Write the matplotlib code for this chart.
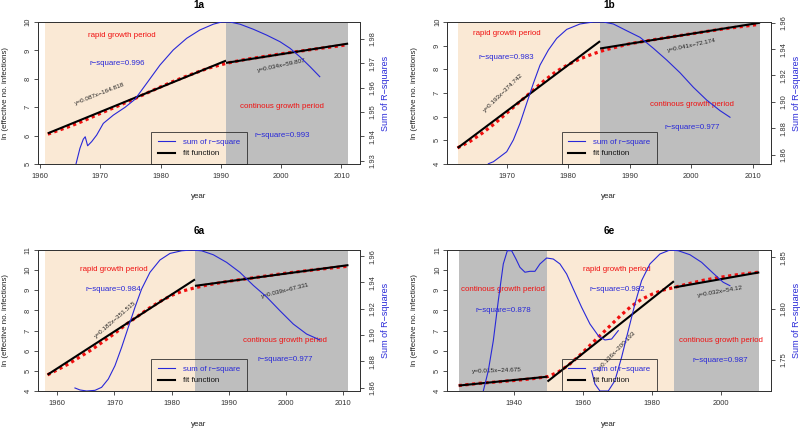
import matplotlib
matplotlib.use('Agg')
import matplotlib.pyplot as plt
from matplotlib.lines import Line2D

plt.rcParams['font.family'] = ['Liberation Sans', 'DejaVu Sans']

# ---------------- data ----------------
# panel 1a
p1a_red_year = [1961.3, 1963, 1965, 1967, 1970, 1973, 1976, 1979, 1982, 1985, 1988, 1991, 1994, 1997, 2000, 2003, 2006, 2009, 2011]
p1a_red_val = [6.05, 6.18, 6.33, 6.5, 6.78, 7.05, 7.33, 7.62, 7.9, 8.15, 8.38, 8.55, 8.68, 8.78, 8.88, 8.97, 9.06, 9.14, 9.2]
p1a_blue_year = [1965.97, 1966.63, 1967.18, 1967.5, 1967.9, 1968.57, 1969.4, 1970.5, 1972.16, 1974.1, 1975.75, 1977.7, 1979.9, 1982.1, 1984.33, 1986.5, 1988.74, 1990.13, 1991.5, 1993.17, 1995.4, 1997.6, 1999.8, 2001.46, 2003.1, 2004.8, 2006.4]
p1a_blue_val = [1.9286, 1.9351, 1.9388, 1.9398, 1.9361, 1.9378, 1.9405, 1.9453, 1.9487, 1.9519, 1.9552, 1.9618, 1.9693, 1.9755, 1.9803, 1.9837, 1.9861, 1.987, 1.987, 1.9861, 1.984, 1.9816, 1.9789, 1.9762, 1.9727, 1.9686, 1.9645]
p1a_fit_x = [(1961.3, 1990.85), (1990.85, 2011.1)]
p1a_fit_y = [(6.08, 8.64), (8.56, 9.24)]
p1a_periods = [(1960.8, 1990.85), (1990.85, 2011.1)]
p1a_eq = ["y=0.087x\u2212164.818", "y=0.034x\u221259.807"]
p1a_r2 = ["r\u2212square=0.996", "r\u2212square=0.993"]

# panel 1b
p1b_red_year = [1962.0, 1964, 1966, 1968, 1970, 1972, 1974, 1976, 1978, 1980, 1982, 1984, 1986, 1988, 1990, 1995, 2000, 2005, 2011]
p1b_red_val = [4.68, 4.95, 5.3, 5.7, 6.15, 6.6, 7.05, 7.5, 7.9, 8.2, 8.45, 8.65, 8.82, 8.95, 9.08, 9.3, 9.5, 9.7, 9.9]
p1b_blue_year = [1967.02, 1967.83, 1968.92, 1970.0, 1971.08, 1972.17, 1973.25, 1974.34, 1975.42, 1976.78, 1978.13, 1979.76, 1981.92, 1984.09, 1985.72, 1987.34, 1989.51, 1991.68, 1993.85, 1996.02, 1998.18, 2000.35, 2002.52, 2004.69, 2006.31]
p1b_blue_val = [1.8532, 1.8547, 1.8585, 1.8623, 1.8712, 1.8838, 1.899, 1.9141, 1.9279, 1.9393, 1.9481, 1.9549, 1.959, 1.9605, 1.9605, 1.959, 1.9539, 1.9489, 1.9406, 1.9317, 1.9221, 1.9111, 1.9014, 1.8934, 1.8884]
p1b_fit_x = [(1962.03, 1985.18), (1985.18, 2011.2)]
p1b_fit_y = [(4.68, 9.19), (8.88, 9.97)]
p1b_periods = [(1962.03, 1985.18), (1985.18, 2011.2)]
p1b_eq = ["y=0.193x\u2212374.742", "y=0.041x\u221272.174"]
p1b_r2 = ["r\u2212square=0.983", "r\u2212square=0.977"]

# panel 6a
p6a_red_year = [1958.3, 1960, 1962, 1964, 1966, 1968, 1970, 1972, 1974, 1976, 1978, 1980, 1982, 1984, 1986, 1990, 1995, 2000, 2005, 2011]
p6a_red_val = [4.8, 5.05, 5.35, 5.7, 6.05, 6.45, 6.85, 7.3, 7.7, 8.1, 8.45, 8.75, 8.97, 9.12, 9.25, 9.45, 9.65, 9.85, 10.02, 10.2]
p6a_blue_year = [1963.09, 1963.96, 1965.13, 1966.59, 1967.75, 1968.92, 1970.08, 1971.25, 1972.41, 1973.58, 1974.74, 1976.2, 1977.95, 1979.7, 1981.74, 1983.48, 1985.23, 1987.27, 1989.6, 1991.93, 1994.27, 1996.6, 1998.93, 2001.26, 2003.59, 2005.92]
p6a_blue_val = [1.8598, 1.8583, 1.8575, 1.858, 1.8603, 1.8666, 1.8767, 1.8907, 1.9059, 1.9211, 1.935, 1.9477, 1.9571, 1.9621, 1.9641, 1.9647, 1.9641, 1.9611, 1.9553, 1.9477, 1.9378, 1.929, 1.9185, 1.9084, 1.9008, 1.8963]
p6a_fit_x = [(1958.3, 1984.07), (1984.07, 2010.9)]
p6a_fit_y = [(4.81, 9.54), (9.22, 10.25)]
p6a_periods = [(1957.8, 1984.07), (1984.07, 2010.9)]
p6a_eq = ["y=0.182x\u2212351.515", "y=0.039x\u221267.331"]
p6a_r2 = ["r\u2212square=0.984", "r\u2212square=0.977"]

# panel 6e
p6e_red_year = [1924.1, 1930, 1935, 1940, 1945, 1950, 1953, 1956, 1959, 1962, 1965, 1968, 1971, 1974, 1977, 1980, 1983, 1986, 1990, 1995, 2000, 2005, 2011]
p6e_red_val = [4.27, 4.38, 4.45, 4.52, 4.6, 4.72, 4.95, 5.3, 5.75, 6.25, 6.75, 7.25, 7.75, 8.2, 8.55, 8.8, 9.0, 9.12, 9.3, 9.5, 9.65, 9.78, 9.9]
p6e_blueA_year = [1931.22, 1932.67, 1934.12, 1935.56, 1937.01, 1938.17, 1939.42, 1940.68, 1941.83, 1943.28, 1944.73, 1946.17, 1947.62, 1949.55, 1951.48, 1953.41, 1955.34, 1957.27, 1959.68, 1962.09, 1964.5, 1966.43, 1968.36, 1970.29]
p6e_blueA_val = [1.7196, 1.7394, 1.7687, 1.8077, 1.8436, 1.8565, 1.8565, 1.8484, 1.8403, 1.8355, 1.8364, 1.8364, 1.8436, 1.8494, 1.8484, 1.8436, 1.8338, 1.8192, 1.8013, 1.785, 1.7736, 1.7694, 1.7703, 1.7785]
p6e_blueB_year = [1962.57, 1963.54, 1964.98, 1967.39, 1969.32, 1971.25, 1973.18, 1975.11, 1977.04, 1979.45, 1982.35, 1985.24, 1987.65, 1991.03, 1994.4, 1997.78, 2000.67, 2002.6]
p6e_blueB_val = [1.7394, 1.7264, 1.7196, 1.7196, 1.7297, 1.7525, 1.7785, 1.8045, 1.8273, 1.8436, 1.8533, 1.8572, 1.8565, 1.8526, 1.8452, 1.8345, 1.8257, 1.8224]
p6e_fit_x = [(1924.1, 1949.8), (1949.8, 1986.4), (1986.4, 2011.1)]
p6e_fit_y = [(4.27, 4.71), (4.47, 9.45), (9.14, 9.89)]
p6e_periods = [(1924.1, 1949.8), (1949.8, 1986.4), (1986.4, 2011.1)]
p6e_eq = ["y=0.015x\u221224.675", "y=0.136x\u2212200.193", "y=0.032x\u221254.12"]
p6e_r2 = ["r\u2212square=0.878", "r\u2212square=0.982", "r\u2212square=0.987"]

# ---------------- style ----------------
BEIGE = '#FAE9D5'
GRAY = '#BEBEBE'
RED = '#F01010'
BLUE = '#2828D8'
TXT = 5.7
TICK = 5.4

W, H = 800, 429
fig = plt.figure(figsize=(W / 100, H / 100), dpi=100)


def add_ax(l, r, t, b):
    return fig.add_axes([l / W, (H - b) / H, (r - l) / W, (b - t) / H])


def panel(box, title, xlim, ylim, y2lim, xticks, yticks, y2ticks, y2fmt,
          periods, kinds, red_x, red_y, fit_x, fit_y, blues,
          texts, eqs, title_dy, xlab_dy):
    ax = add_ax(*box)
    ax.set_xlim(*xlim)
    ax.set_ylim(*ylim)
    for (x0, x1), k in zip(periods, kinds):
        ax.axvspan(x0, x1, color=BEIGE if k == 'r' else GRAY, lw=0, zorder=0)
    ax.plot(red_x, red_y, color=RED, lw=2.3, ls=(0, (1, 1.1)), zorder=2)
    for xs, ys in zip(fit_x, fit_y):
        ax.plot(xs, ys, color='black', lw=1.5, zorder=3, solid_capstyle='butt')
    for (x, y, s, c) in texts:
        ax.text(x, y, s, color=c, fontsize=TXT, ha='center', va='center', zorder=4)
    for (x, y, s, rot) in eqs:
        ax.text(x, y, s, color='#222222', fontsize=4.6, ha='center', va='center',
                rotation=rot, rotation_mode='anchor', zorder=4)
    ax.set_xticks(xticks)
    ax.set_yticks(yticks)
    ax.tick_params(axis='both', direction='out', length=3, width=0.6,
                   labelsize=TICK, colors='#333333')
    ax.tick_params(axis='x', pad=3.2)
    ax.tick_params(axis='y', pad=1.5, labelrotation=90)
    for lab in ax.get_yticklabels():
        lab.set_va('center')
    for sp in ax.spines.values():
        sp.set_linewidth(0.7)
        sp.set_color('#333333')
    ax.text(0.5, 1 + title_dy, title, transform=ax.transAxes, ha='center',
            va='center', fontsize=7.2, fontweight='bold')
    ax.text(0.5, -xlab_dy, 'year', transform=ax.transAxes, ha='center',
            va='center', fontsize=TXT, color='#222222')
    ax.text(-0.101, 0.5, 'ln (effective no. infections)', transform=ax.transAxes,
            ha='center', va='center', rotation=90, fontsize=TXT, color='#222222')

    ax2 = ax.twinx()
    for bx, by in blues:
        ax2.plot(bx, by, color=BLUE, lw=0.8, zorder=5)
    ax2.set_ylim(*y2lim)
    ax2.set_yticks(y2ticks)
    ax2.set_yticklabels([y2fmt % v for v in y2ticks])
    ax2.tick_params(axis='y', direction='out', length=3, width=0.6,
                    labelsize=TICK, colors='#333333', pad=4, labelrotation=90)
    for lab in ax2.get_yticklabels():
        lab.set_va('center')
    for sp in ax2.spines.values():
        sp.set_linewidth(0.7)
        sp.set_color('#333333')
    ax2.text(1.08, 0.5, 'Sum of R\u2212squares', transform=ax2.transAxes,
             ha='center', va='center', rotation=90, fontsize=6.5, color=BLUE)
    handles = [Line2D([], [], color=BLUE, lw=0.8), Line2D([], [], color='black', lw=1.5)]
    leg = ax2.legend(handles, ['sum of r\u2212square', 'fit function'], loc='lower center',
                     fontsize=TXT, frameon=True, fancybox=False, edgecolor='#222222',
                     facecolor='none', framealpha=None, borderaxespad=0, borderpad=0.85,
                     handlelength=2.1, handletextpad=1.0, labelspacing=0.45)
    leg.get_frame().set_linewidth(0.7)
    leg.get_texts()[0].set_color(BLUE)
    leg.get_texts()[1].set_color('#111111')
    leg.set_zorder(6)
    return ax, ax2


# 1a
panel((38, 360, 22, 164), '1a', (1959.67, 2013.07), (5, 10), (1.9286, 1.987),
      [1960, 1970, 1980, 1990, 2000, 2010], [5, 6, 7, 8, 9, 10],
      [1.93, 1.94, 1.95, 1.96, 1.97, 1.98], '%.2f',
      p1a_periods, ['r', 'c'], p1a_red_year, p1a_red_val, p1a_fit_x, p1a_fit_y,
      [(p1a_blue_year, p1a_blue_val)],
      [(1973.6, 9.53, 'rapid growth period', RED), (1972.8, 8.54, p1a_r2[0], BLUE),
       (2000.1, 7.01, 'continous growth period', RED), (2000.1, 6.02, p1a_r2[1], BLUE)],
      [(1970.0, 7.47, p1a_eq[0], 21.5), (2000.1, 8.47, p1a_eq[1], 12)],
      0.12, 0.232)

# 1b
panel((447.3, 771, 22, 164), '1b', (1960.34, 2012.98), (4, 10), (1.853, 1.9605),
      [1970, 1980, 1990, 2000, 2010], [4, 5, 6, 7, 8, 9, 10],
      [1.86, 1.88, 1.90, 1.92, 1.94, 1.96], '%.2f',
      p1b_periods, ['r', 'c'], p1b_red_year, p1b_red_val, p1b_fit_x, p1b_fit_y,
      [(p1b_blue_year, p1b_blue_val)],
      [(1970.0, 9.50, 'rapid growth period', RED), (1970.0, 8.52, p1b_r2[0], BLUE),
       (2000.1, 6.52, 'continous growth period', RED), (2000.1, 5.53, p1b_r2[1], BLUE)],
      [(1969.5, 6.99, p1b_eq[0], 44), (2000.1, 9.0, p1b_eq[1], 12)],
      0.12, 0.232)

# 6a
panel((38, 360, 250, 391), '6a', (1956.63, 2012.92), (4, 11), (1.8575, 1.9647),
      [1960, 1970, 1980, 1990, 2000, 2010], [4, 5, 6, 7, 8, 9, 10, 11],
      [1.86, 1.88, 1.90, 1.92, 1.94, 1.96], '%.2f',
      p6a_periods, ['r', 'c'], p6a_red_year, p6a_red_val, p6a_fit_x, p6a_fit_y,
      [(p6a_blue_year, p6a_blue_val)],
      [(1969.8, 10.04, 'rapid growth period', RED), (1969.8, 9.04, p6a_r2[0], BLUE),
       (1999.8, 6.51, 'continous growth period', RED), (1999.8, 5.55, p6a_r2[1], BLUE)],
      [(1970.1, 7.54, p6a_eq[0], 41), (1999.9, 9.0, p6a_eq[1], 14)],
      0.135, 0.241)

# 6e
panel((447.3, 771, 250, 391), '6e', (1920.8, 2014.5), (4, 11), (1.7196, 1.8572),
      [1940, 1960, 1980, 2000], [4, 5, 6, 7, 8, 9, 10, 11],
      [1.75, 1.80, 1.85], '%.2f',
      p6e_periods, ['c', 'r', 'c'], p6e_red_year, p6e_red_val, p6e_fit_x, p6e_fit_y,
      [(p6e_blueA_year, p6e_blueA_val), (p6e_blueB_year, p6e_blueB_val)],
      [(1970.0, 10.04, 'rapid growth period', RED), (1970.0, 9.04, p6e_r2[1], BLUE),
       (1937.0, 9.04, 'continous growth period', RED), (1937.0, 8.0, p6e_r2[0], BLUE),
       (1999.9, 6.51, 'continous growth period', RED), (1999.9, 5.51, p6e_r2[2], BLUE)],
      [(1935.1, 5.01, p6e_eq[0], 2), (1969.8, 6.0, p6e_eq[1], 46), (1999.9, 8.92, p6e_eq[2], 10)],
      0.135, 0.241)

fig.savefig('out.png', dpi=100)
